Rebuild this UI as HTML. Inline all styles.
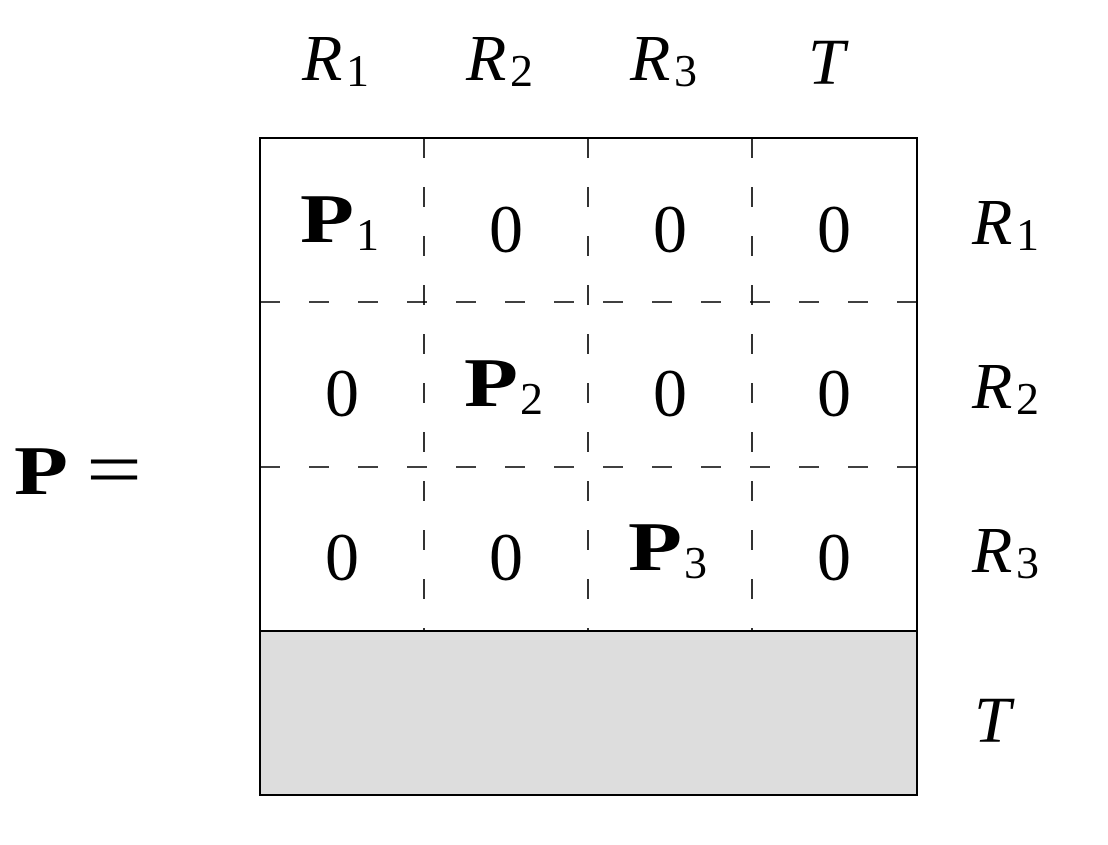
<!DOCTYPE html>
<html><head><style>
body{margin:0;width:1108px;height:840px;background:#fff;overflow:hidden}
</style></head><body>
<svg width="1108" height="840" xmlns="http://www.w3.org/2000/svg" font-family="Liberation Serif, serif">
<rect x="260" y="631" width="657" height="164" fill="#dddddd"/>
<g stroke="#000" stroke-width="1.6" stroke-dasharray="20 29">
<line x1="260" y1="302" x2="917" y2="302"/>
<line x1="260" y1="467" x2="917" y2="467"/>
<line x1="424" y1="138" x2="424" y2="631"/>
<line x1="588" y1="138" x2="588" y2="631"/>
<line x1="752" y1="138" x2="752" y2="631"/>
</g>
<rect x="260" y="138" width="657" height="657" fill="none" stroke="#000" stroke-width="2"/>
<line x1="260" y1="631" x2="917" y2="631" stroke="#000" stroke-width="2"/>
<g font-size="68" text-anchor="middle">
<text x="506" y="252">0</text><text x="670" y="252">0</text><text x="834" y="252">0</text>
<text x="342" y="416">0</text><text x="670" y="416">0</text><text x="834" y="416">0</text>
<text x="342" y="580">0</text><text x="506" y="580">0</text><text x="834" y="580">0</text>
</g>
<g font-size="70">
<text x="300" y="242" font-weight="bold" textLength="54" lengthAdjust="spacingAndGlyphs">P</text>
<text x="356" y="250" font-size="46">1</text>
<text x="464" y="406" font-weight="bold" textLength="54" lengthAdjust="spacingAndGlyphs">P</text>
<text x="520" y="414" font-size="46">2</text>
<text x="628" y="570" font-weight="bold" textLength="54" lengthAdjust="spacingAndGlyphs">P</text>
<text x="684" y="578" font-size="46">3</text>
<text x="14" y="494" font-weight="bold" textLength="54" lengthAdjust="spacingAndGlyphs">P</text>
<text x="86" y="496" font-size="80" textLength="56" lengthAdjust="spacingAndGlyphs">=</text>
</g>
<g font-size="66" font-style="italic">
<text x="302" y="80">R</text><text x="346" y="86" font-size="46" font-style="normal">1</text>
<text x="466" y="80">R</text><text x="510" y="86" font-size="46" font-style="normal">2</text>
<text x="630" y="80">R</text><text x="674" y="86" font-size="46" font-style="normal">3</text>
<text x="808" y="84">T</text>
<text x="972" y="244">R</text><text x="1016" y="250" font-size="46" font-style="normal">1</text>
<text x="972" y="408">R</text><text x="1016" y="414" font-size="46" font-style="normal">2</text>
<text x="972" y="572">R</text><text x="1016" y="578" font-size="46" font-style="normal">3</text>
<text x="974" y="742">T</text>
</g>
</svg>
</body></html>
